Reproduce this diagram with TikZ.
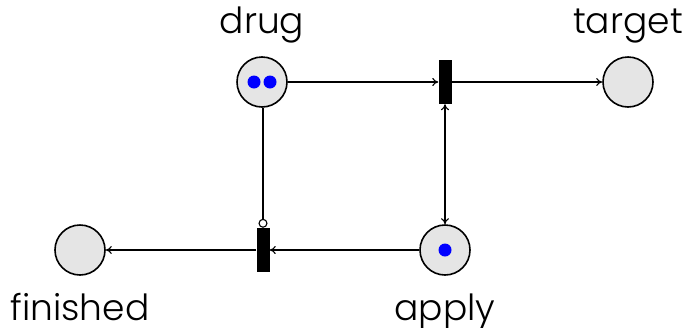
\documentclass[tikz,border=0pt]{standalone}
\usepackage{fontspec}
\setmainfont{Poppins}[UprightFont={* Light}]
\usetikzlibrary{arrows.meta}
\begin{document}
\begin{tikzpicture}[x=1pt,y=-1pt,
  place/.style={circle,draw=black,line width=1.6pt,fill=black!10,minimum size=50pt,inner sep=0pt},
  trans/.style={rectangle,fill=black,minimum width=13pt,minimum height=44pt,inner sep=0pt},
  token/.style={circle,fill=blue,minimum size=13pt,inner sep=0pt},
  arc/.style={line width=1.1pt,-{To[length=6pt,width=8pt]}},
  dbl/.style={line width=1.1pt,{To[length=6pt,width=8pt]}-{To[length=6pt,width=8pt]}},
  inhib/.style={line width=1.1pt,-{Circle[open,length=9pt,width=9pt,line width=1.1pt]}},
  lab/.style={font=\fontsize{36}{40}\selectfont,inner sep=0pt}]
\useasboundingbox (0,0) rectangle (687,327);
% places
\node[place] (drug) at (262,82) {};
\node[place] (target) at (628,82) {};
\node[place] (finished) at (80,250) {};
\node[place] (apply) at (445,250) {};
% transitions
\node[trans] (t1) at (445,82) {};
\node[trans] (t2) at (263,250) {};
% tokens
\node[token] (d1) at (254,82) {};
\node[token] (d2) at (270,82) {};
\node[token] (a1) at (445,250) {};
% labels, placed by their baselines
\node[lab,anchor=base] (ldrug) at (262,33) {drug};
\node[lab,anchor=base] (ltarget) at (628,33) {target};
\node[lab,anchor=base] (lfin) at (80,320) {finished};
\node[lab,anchor=base] (lapply) at (445,320) {apply};
% arcs
\draw[arc] (drug) -- (t1);
\draw[arc] (t1) -- (target);
\draw[dbl] (t1) -- (apply);
\draw[arc] (apply) -- (t2);
\draw[arc] (t2) -- (finished);
\draw[inhib] (drug.south -| t2) -- (t2.north);
\end{tikzpicture}
\end{document}
